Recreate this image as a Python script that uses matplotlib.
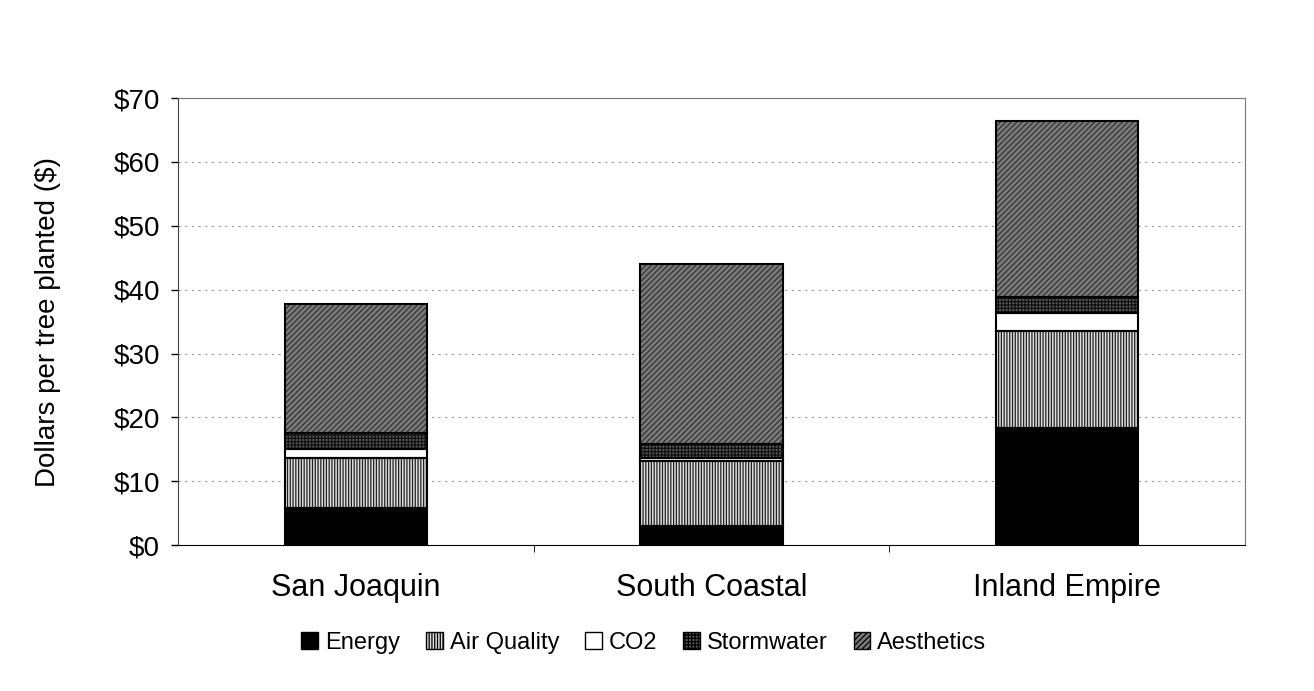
import numpy as np
import matplotlib
matplotlib.use("Agg")
import matplotlib.pyplot as plt
from matplotlib.patches import Patch

plt.rcParams['font.family'] = ['Liberation Sans', 'DejaVu Sans']
plt.rcParams['hatch.linewidth'] = 0.9

regions = ["San Joaquin", "South Coastal", "Inland Empire"]
energy = [5.9, 3.0, 18.3]
air_quality = [7.7, 10.2, 15.2]
co2 = [1.4, 0.4, 2.8]
stormwater = [2.5, 2.2, 2.5]
aesthetics = [20.2, 28.3, 27.6]

series = [
    ("Energy", energy, "black", None, "black"),
    ("Air Quality", air_quality, "#dddddd", "||||||", "#222222"),
    ("CO2", co2, "white", None, "black"),
    ("Stormwater", stormwater, "#555555", "+++++", "#111111"),
    ("Aesthetics", aesthetics, "#7a7a7a", "//////", "#333333"),
]

fig = plt.figure(figsize=(13.14, 6.91), dpi=100)
ax = fig.add_axes([0.1355, 0.211, 0.812, 0.647])

x = np.arange(len(regions))
bottom = np.zeros(len(regions))
handles = []
for name, vals, face, hatch, hcol in series:
    vals = np.array(vals)
    ax.bar(x, vals, width=0.4, bottom=bottom, color=face, hatch=hatch,
           edgecolor=hcol, linewidth=0, zorder=3)
    ax.bar(x, vals, width=0.4, bottom=bottom, fill=False,
           edgecolor="black", linewidth=1.5, zorder=4)
    handles.append(Patch(facecolor=face, hatch=hatch, edgecolor="black", linewidth=1))
    bottom += vals

ax.set_xlim(-0.5, 2.5)
ax.set_ylim(0, 70)
ax.set_yticks(np.arange(0, 71, 10))
ax.set_yticklabels([f"${v}" for v in range(0, 71, 10)], fontsize=20)
ax.set_xticks(x)
ax.set_xticklabels(regions, fontsize=22)
ax.tick_params(axis='x', length=0, pad=20)
ax.tick_params(axis='y', length=5, width=1, direction='out', pad=8)
ax.set_xticks([0.5, 1.5], minor=True)
ax.tick_params(axis='x', which='minor', length=5, direction='out')
ax.set_ylabel("Dollars per tree planted ($)", fontsize=20, labelpad=38)

ax.grid(axis='y', color='#999999', linestyle=(0, (2, 4)), linewidth=0.8, zorder=0)
ax.set_axisbelow(True)
for s in ['top', 'right']:
    ax.spines[s].set_color('#777777')
    ax.spines[s].set_linewidth(0.8)
ax.spines['left'].set_color('#444444')
ax.spines['bottom'].set_color('black')

fig.legend(handles, [s[0] for s in series], loc='center', bbox_to_anchor=(0.49, 0.07),
           ncol=5, frameon=False, fontsize=17, handlelength=0.7, handleheight=0.7,
           handletextpad=0.3, columnspacing=1.1)

fig.savefig("out.png", dpi=100)
